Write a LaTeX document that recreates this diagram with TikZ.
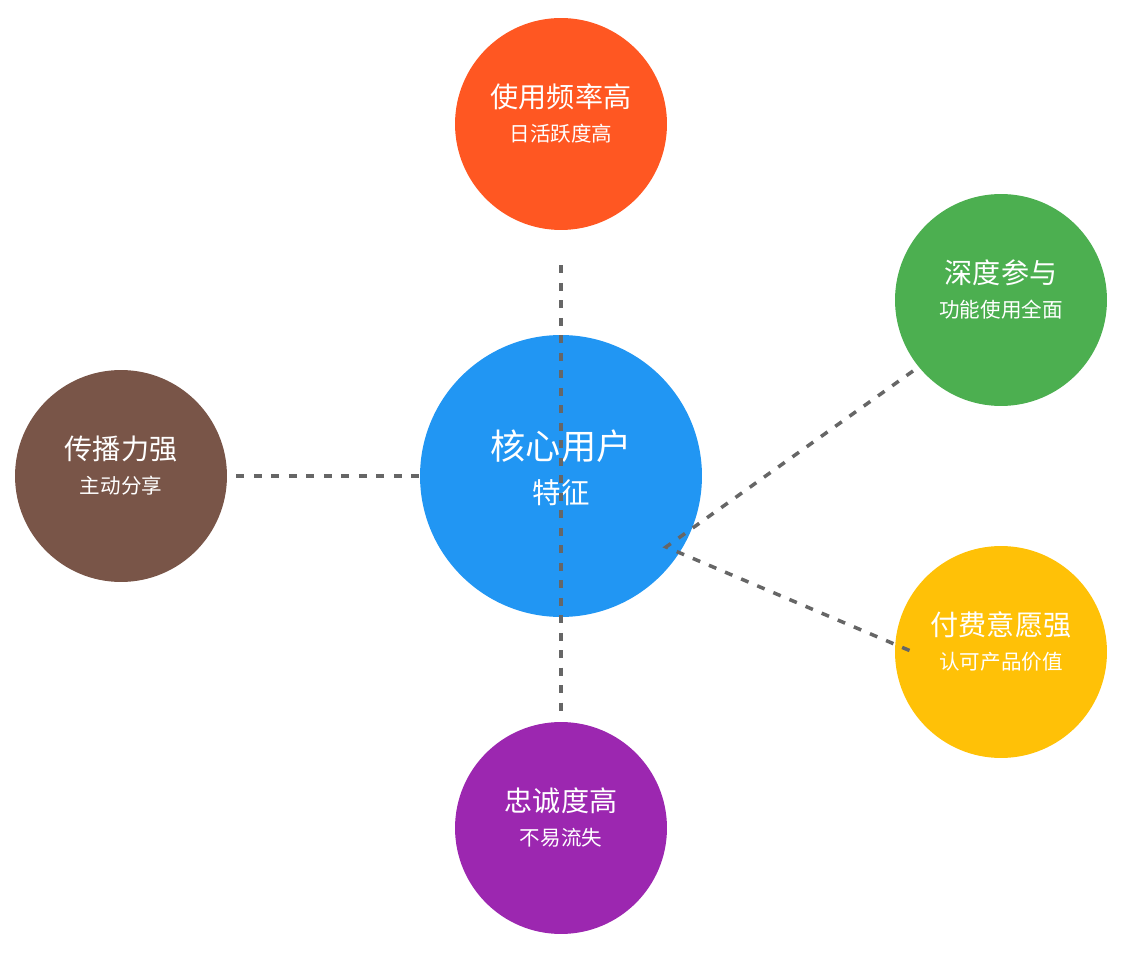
\documentclass[tikz,border=0pt]{standalone}
\usepackage{fontspec}
\setmainfont{Noto Sans CJK SC}
\usepackage{tikz}
\usetikzlibrary{positioning,calc}

\definecolor{coreblue}{HTML}{2196F3}
\definecolor{freqorange}{HTML}{FF5722}
\definecolor{depthgreen}{HTML}{4CAF50}
\definecolor{payyellow}{HTML}{FFC107}
\definecolor{loyalpurple}{HTML}{9C27B0}
\definecolor{spreadbrown}{HTML}{795548}
\definecolor{linkgray}{HTML}{666666}

\begin{document}
\begin{tikzpicture}[
    x=0.02cm, y=-0.02cm,
    bubble/.style={circle, inner sep=0pt, minimum size=4.24cm, draw=none},
    hub/.style={circle, inner sep=0pt, minimum size=5.64cm, draw=none, fill=coreblue},
    head/.style={text=white, inner sep=0pt, font=\fontsize{16}{18}\selectfont},
    sub/.style={text=white, inner sep=0pt, font=\fontsize{11.7}{13}\selectfont},
    link/.style={draw=linkgray, line width=2pt, dash pattern=on 0.16cm off 0.19cm},
  ]
    \useasboundingbox (0,0) rectangle (1146,955);

    % Core
    \node[hub] (core) at (561,476) {};
    \node[text=white, inner sep=0pt, font=\fontsize{20}{22}\selectfont] (core-t) at (561,446) {核心用户};
    \node[text=white, inner sep=0pt, font=\fontsize{16.2}{18}\selectfont] (core-s) at (561,493) {特征};

    % Top
    \node[bubble, fill=freqorange] (freq) at (561,124) {};
    \node[head] (freq-t) at ($(freq)+(0,-27)$) {使用频率高};
    \node[sub]  (freq-s) at ($(freq)+(0,10)$)  {日活跃度高};

    % Right upper
    \node[bubble, fill=depthgreen] (depth) at (1001,300) {};
    \node[head] (depth-t) at ($(depth)+(0,-27)$) {深度参与};
    \node[sub]  (depth-s) at ($(depth)+(0,10)$)  {功能使用全面};

    % Right lower
    \node[bubble, fill=payyellow] (pay) at (1001,652) {};
    \node[head] (pay-t) at ($(pay)+(0,-27)$) {付费意愿强};
    \node[sub]  (pay-s) at ($(pay)+(0,10)$)  {认可产品价值};

    % Bottom
    \node[bubble, fill=loyalpurple] (loyal) at (561,828) {};
    \node[head] (loyal-t) at ($(loyal)+(0,-27)$) {忠诚度高};
    \node[sub]  (loyal-s) at ($(loyal)+(0,10)$)  {不易流失};

    % Left
    \node[bubble, fill=spreadbrown] (spread) at (121,476) {};
    \node[head] (spread-t) at ($(spread)+(0,-27)$) {传播力强};
    \node[sub]  (spread-s) at ($(spread)+(0,10)$)  {主动分享};

    % Links
    \coordinate (depth-end) at (913,371);
    \coordinate (meet)      at (666,547);
    \coordinate (pay-end)   at (913,652);
    \draw[link, shorten <=0.7cm, shorten >=0.14cm] (freq) -- (loyal);
    \draw[link, shorten <=0.18cm] (spread) -- (core);
    \draw[link] (depth-end) -- (meet) -- (pay-end);
  \end{tikzpicture}
\end{document}
